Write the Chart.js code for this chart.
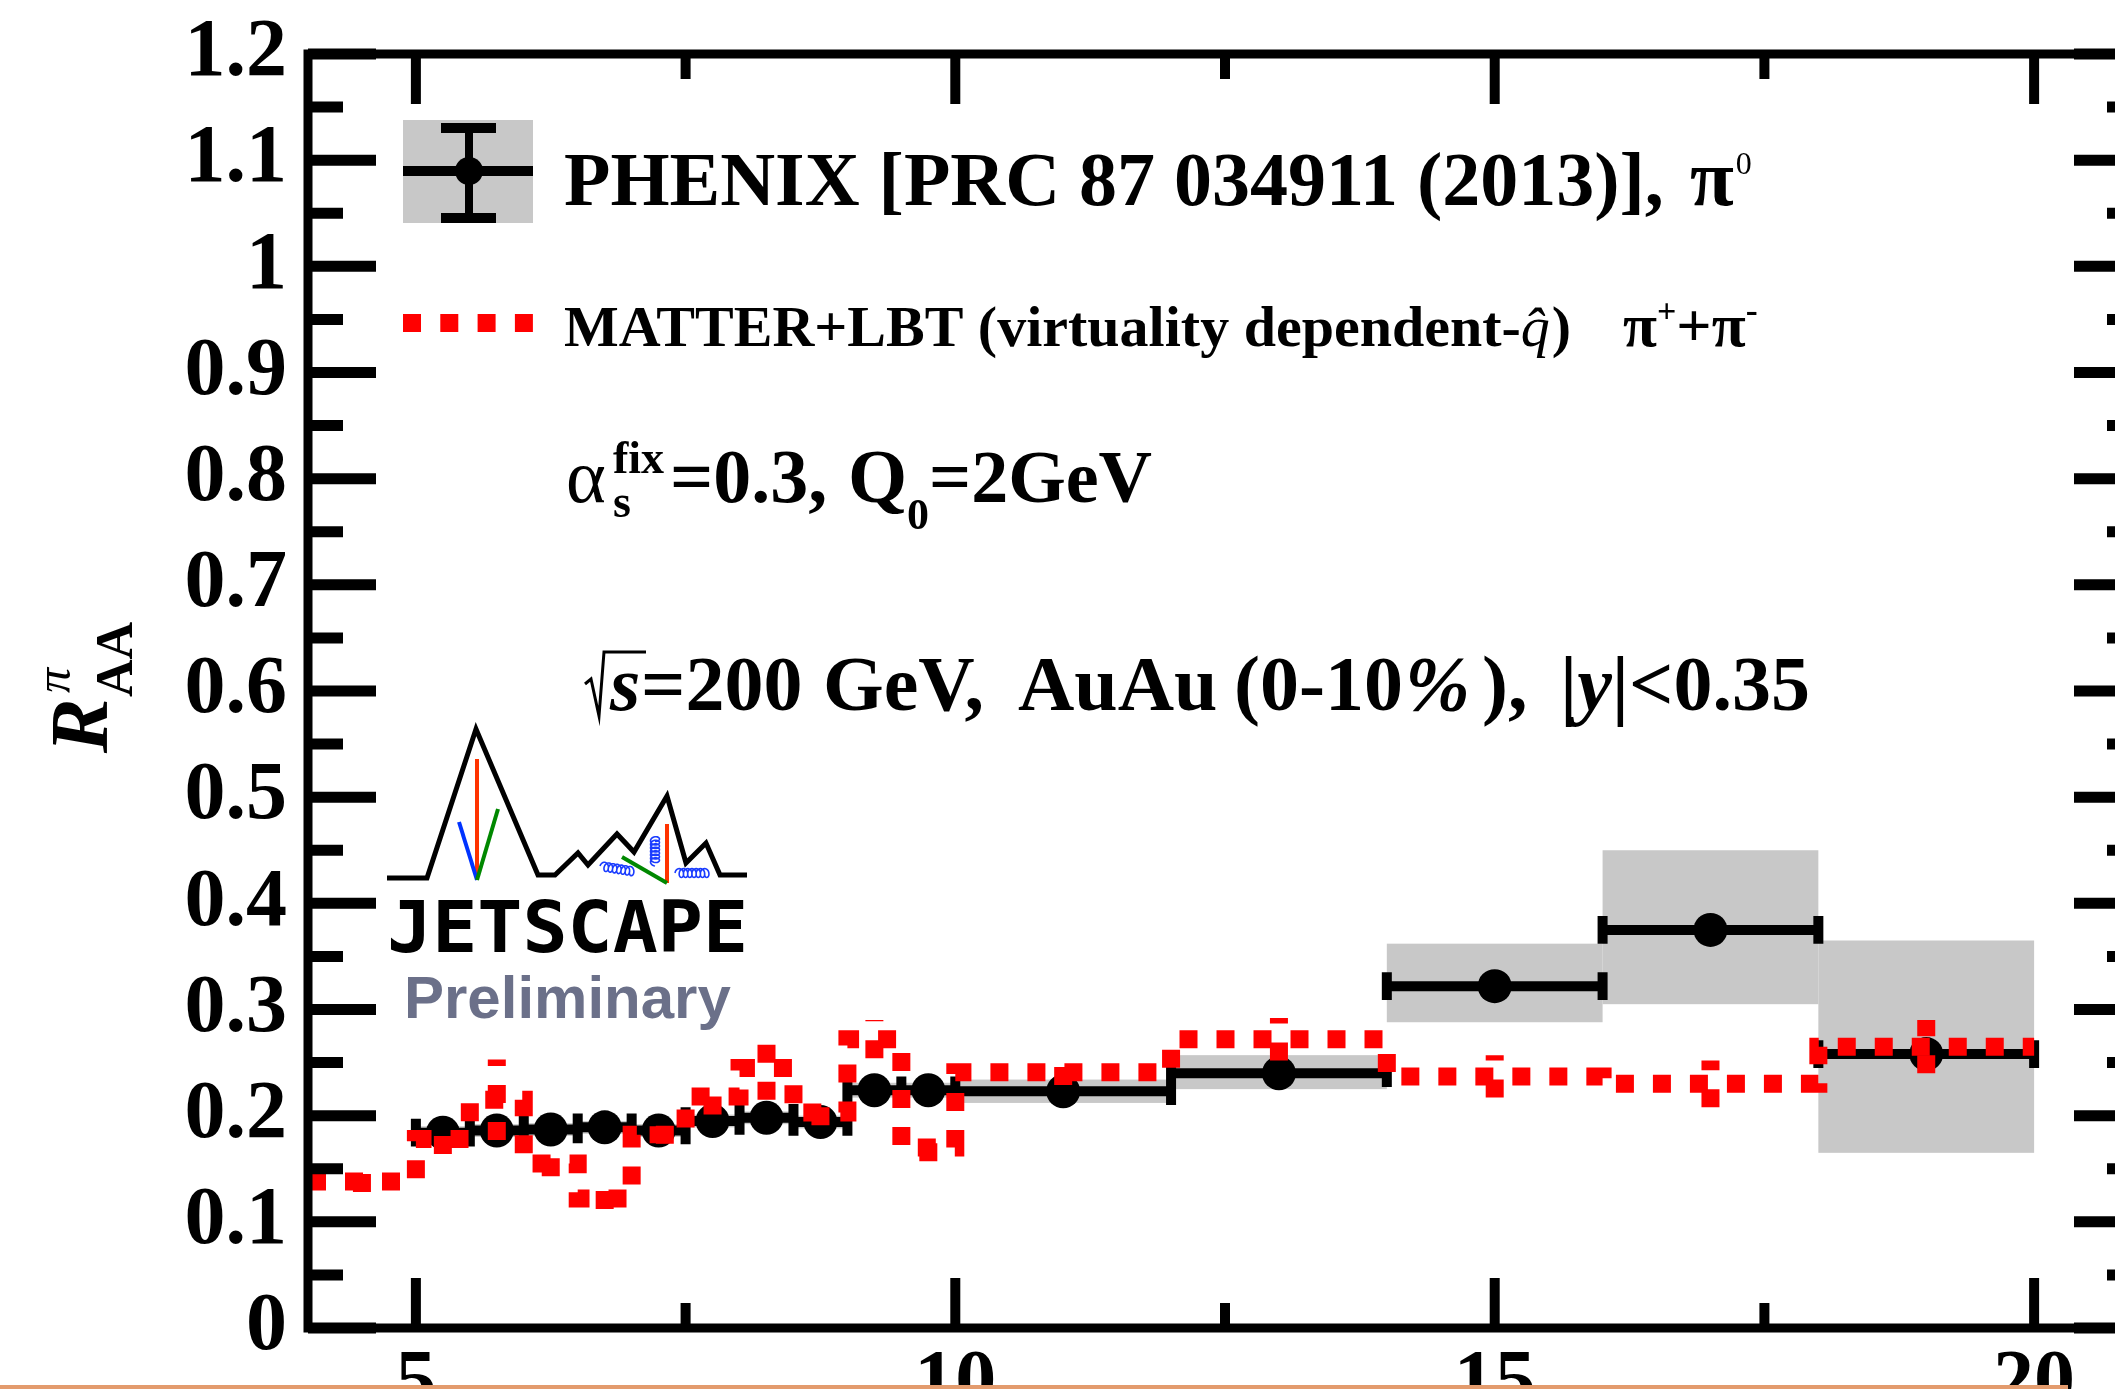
<!DOCTYPE html>
<html>
<head>
<meta charset="utf-8">
<title>Pion RAA, AuAu 200 GeV</title>
<script src="https://cdn.jsdelivr.net/npm/chart.js@4.4.1/dist/chart.umd.min.js"></script>
<style>
  html, body { margin: 0; padding: 0; background: #fff; overflow: hidden; width: 2115px; height: 1389px; }
  canvas { display: block; }
</style>
</head>
<body>
<canvas id="raaChart" width="2200" height="1389"></canvas>
<script>
const ctx = document.getElementById("raaChart").getContext("2d");

// PHENIX pi0 R_AA, AuAu 0-10% (bins in pT [GeV])
const phenixLo = [5, 5.5, 6, 6.5, 7, 7.5, 8, 8.5, 9, 9.5, 10, 12, 14, 16, 18];
const phenixHi = [5.5, 6, 6.5, 7, 7.5, 8, 8.5, 9, 9.5, 10, 12, 14, 16, 18, 20];
const phenixPt = [5.25, 5.75, 6.25, 6.75, 7.25, 7.75, 8.25, 8.75, 9.25, 9.75, 11, 13, 15, 17, 19];
const phenixRaa = [0.184, 0.186, 0.187, 0.189, 0.186, 0.195, 0.198, 0.194, 0.224, 0.224, 0.223, 0.240, 0.322, 0.375, 0.258];
const phenixSysLo = [0.178, 0.180, 0.181, 0.183, 0.180, 0.189, 0.192, 0.188, 0.217, 0.217, 0.212, 0.225, 0.288, 0.305, 0.165];
const phenixSysHi = [0.190, 0.192, 0.193, 0.195, 0.192, 0.201, 0.204, 0.200, 0.231, 0.231, 0.234, 0.257, 0.362, 0.450, 0.365];

// MATTER+LBT (virtuality dependent q-hat), pi+ + pi-
const modelLo = [4, 5, 5.5, 6, 6.5, 7, 7.5, 8, 8.5, 9, 9.5, 10, 12, 14, 16, 18];
const modelHi = [5, 5.5, 6, 6.5, 7, 7.5, 8, 8.5, 9, 9.5, 10, 12, 14, 16, 18, 20];
const modelPt = [4.5, 5.25, 5.75, 6.25, 6.75, 7.25, 7.75, 8.25, 8.75, 9.25, 9.75, 11, 13, 15, 17, 19];
const modelRaa = [0.138, 0.178, 0.215, 0.155, 0.122, 0.182, 0.218, 0.245, 0.203, 0.272, 0.170, 0.241, 0.272, 0.237, 0.230, 0.265];
const modelErr = [0.010, 0.014, 0.038, 0.012, 0.010, 0.008, 0.017, 0.030, 0.012, 0.018, 0.013, 0.012, 0.020, 0.020, 0.022, 0.025];

const xTicks = [5, 10, 15, 20];
const yTicks = [0, 0.1, 0.2, 0.3, 0.4, 0.5, 0.6, 0.7, 0.8, 0.9, 1.0, 1.1, 1.2];

const SERIF = '"Liberation Serif", "Times New Roman", serif';
const RED = "#ff0000";
const GREY = "#c8c8c8";
const CAP = 0.013;   // half height of the bin-edge caps
const DOTS = [18, 19];

// horizontal bin-width bars and caps, split by gaps
const phenixBars = [];
const phenixCaps = [];
phenixLo.forEach((lo, i) => {
  const hi = phenixHi[i], v = phenixRaa[i];
  phenixBars.push({ x: lo, y: v }, { x: hi, y: v }, { x: hi, y: null });
  [lo, hi].forEach(e => phenixCaps.push({ x: e, y: v - CAP }, { x: e, y: v + CAP }, { x: e, y: null }));
});

// model as a step histogram plus vertical error bars
const modelStep = modelLo.map((lo, i) => ({ x: lo, y: modelRaa[i] }));
modelStep.push({ x: modelHi[modelHi.length - 1], y: modelRaa[modelRaa.length - 1] });
const modelBars = [];
modelPt.forEach((pt, i) => {
  modelBars.push({ x: pt, y: modelRaa[i] - modelErr[i] }, { x: pt, y: modelRaa[i] + modelErr[i] }, { x: pt, y: null });
});

function textRun(c, x, y, parts) {
  parts.forEach(p => {
    c.font = p.font;
    const px = p.at !== undefined ? p.at : x;
    c.fillText(p.t, px, y + (p.dy || 0));
    x = px + c.measureText(p.t).width + (p.gap || 0);
  });
  return x;
}

function coil(c, x0, y0, x1, y1, loops, r) {
  const L = Math.hypot(x1 - x0, y1 - y0);
  const ux = (x1 - x0) / L, uy = (y1 - y0) / L;
  const n = loops * 24;
  c.beginPath();
  for (let k = 0; k <= n; k++) {
    const s = (k / n) * loops * 2 * Math.PI;
    const a = (k / n) * (L - 2 * r) + r - r * Math.cos(s);
    const b = -r * Math.sin(s) * 1.4;
    const px = x0 + ux * a - uy * b, py = y0 + uy * a + ux * b;
    if (k === 0) c.moveTo(px, py); else c.lineTo(px, py);
  }
  c.stroke();
}

function seg(c, x0, y0, x1, y1, color, w) {
  c.strokeStyle = color;
  c.lineWidth = w;
  c.beginPath();
  c.moveTo(x0, y0);
  c.lineTo(x1, y1);
  c.stroke();
}

const decorations = {
  id: "decorations",
  beforeDatasetsDraw(chart) {
    const { ctx: c, scales: { x, y } } = chart;
    c.save();
    c.fillStyle = GREY;
    phenixLo.forEach((lo, i) => {
      const x0 = x.getPixelForValue(lo), x1 = x.getPixelForValue(phenixHi[i]);
      const y0 = y.getPixelForValue(phenixSysHi[i]), y1 = y.getPixelForValue(phenixSysLo[i]);
      c.fillRect(x0, y0, x1 - x0, y1 - y0);
    });
    c.restore();
  },
  afterDraw(chart) {
    const { ctx: c, chartArea: a, scales: { x, y } } = chart;
    c.save();

    // frame with inward ticks on all four sides
    c.strokeStyle = "#000";
    c.lineWidth = 9;
    c.strokeRect(a.left, a.top, a.right - a.left, a.bottom - a.top);
    for (let v = 0; v <= 1.2001; v += 0.05) {
      const py = y.getPixelForValue(v);
      const major = Math.abs(v * 10 - Math.round(v * 10)) < 1e-6;
      const len = major ? 68 : 35;
      seg(c, a.left, py, a.left + len, py, "#000", 11);
      seg(c, a.right, py, a.right - len, py, "#000", 11);
    }
    for (let v = 5; v <= 20.001; v += 2.5) {
      const px = x.getPixelForValue(v);
      const len = v % 5 === 0 ? 50 : 25;
      seg(c, px, a.bottom, px, a.bottom - len, "#000", 10);
      seg(c, px, a.top, px, a.top + len, "#000", 10);
    }

    // y-axis title R^pi_AA
    c.save();
    c.translate(107, 753);
    c.rotate(-Math.PI / 2);
    c.fillStyle = "#000";
    c.font = `italic bold 82px ${SERIF}`;
    c.fillText("R", 0, 0);
    c.font = `italic 50px ${SERIF}`;
    c.fillText("π", 60, -37);
    c.font = `bold 52px ${SERIF}`;
    c.fillText("AA", 56, 25);
    c.restore();

    // legend: PHENIX marker
    c.fillStyle = GREY;
    c.fillRect(403, 120, 130, 103);
    seg(c, 403, 171, 533, 171, "#000", 10);
    seg(c, 469, 124, 469, 219, "#000", 8);
    seg(c, 441, 128, 496, 128, "#000", 10);
    seg(c, 441, 218, 496, 218, "#000", 10);
    c.fillStyle = "#000";
    c.beginPath();
    c.arc(469, 171, 14, 0, 2 * Math.PI);
    c.fill();

    // legend: model dotted line
    c.save();
    c.setLineDash([18, 19.3]);
    seg(c, 403, 323, 533, 323, RED, 18);
    c.restore();

    c.fillStyle = "#000";
    c.textBaseline = "alphabetic";
    textRun(c, 564, 205, [
      { t: "PHENIX [PRC 87 034911 (2013)],", font: `bold 76px ${SERIF}` },
      { t: "π", font: `bold 80px ${SERIF}`, at: 1690, gap: 2 },
      { t: "0", font: `32px ${SERIF}`, dy: -31 }
    ]);

    textRun(c, 564, 346, [
      { t: "MATTER+LBT (virtuality dependent-", font: `bold 58px ${SERIF}` },
      { t: "q\u0302", font: `italic 58px ${SERIF}`, gap: 2 },
      { t: ")", font: `bold 58px ${SERIF}` },
      { t: "π", font: `bold 62px ${SERIF}`, at: 1623 },
      { t: "+", font: `bold 34px ${SERIF}`, dy: -24 },
      { t: "+", font: `bold 62px ${SERIF}` },
      { t: "π", font: `bold 62px ${SERIF}` },
      { t: "-", font: `bold 36px ${SERIF}`, dy: -24 }
    ]);

    // alpha_s^fix line
    textRun(c, 566, 502, [{ t: "α", font: `76px ${SERIF}` }]);
    textRun(c, 613, 473, [{ t: "fix", font: `bold 46px ${SERIF}` }]);
    textRun(c, 613, 517, [{ t: "s", font: `bold 46px ${SERIF}` }]);
    textRun(c, 670, 502, [
      { t: "=0.3,", font: `bold 76px ${SERIF}` },
      { t: "Q", font: `bold 76px ${SERIF}`, at: 848 },
      { t: "0", font: `bold 44px ${SERIF}`, at: 907, dy: 27 },
      { t: "=2GeV", font: `bold 74px ${SERIF}`, at: 929 }
    ]);

    // sqrt(s) line
    c.strokeStyle = "#000";
    c.lineWidth = 3;
    c.beginPath();
    c.moveTo(585, 684);
    c.lineTo(591, 679);
    c.lineTo(599, 716);
    c.lineTo(604, 652);
    c.lineTo(646, 652);
    c.stroke();
    textRun(c, 610, 710, [
      { t: "s", font: `italic bold 78px ${SERIF}` },
      { t: "=200", font: `bold 78px ${SERIF}`, at: 641 },
      { t: "GeV,", font: `bold 78px ${SERIF}`, at: 823 },
      { t: "AuAu", font: `bold 78px ${SERIF}`, at: 1018 },
      { t: "(0-10", font: `bold 78px ${SERIF}`, at: 1234 },
      { t: "%", font: `italic bold 78px ${SERIF}`, at: 1405 },
      { t: "),", font: `bold 78px ${SERIF}`, at: 1482 },
      { t: "|", font: `bold 78px ${SERIF}`, at: 1560 },
      { t: "y", font: `italic bold 78px ${SERIF}` },
      { t: "|<0.35", font: `bold 78px ${SERIF}` }
    ]);

    // JETSCAPE logo
    c.lineJoin = "miter";
    c.strokeStyle = "#000";
    c.lineWidth = 5;
    const ridge = [[387, 878], [427, 878], [476, 729], [538, 875], [555, 875], [578, 853], [588, 865],
      [617, 834], [634, 852], [667, 796], [686, 863], [706, 843], [720, 875], [747, 875]];
    c.beginPath();
    ridge.forEach(([px, py], i) => (i ? c.lineTo(px, py) : c.moveTo(px, py)));
    c.stroke();
    seg(c, 477, 759, 477, 880, "#ff3300", 4);
    seg(c, 459, 822, 477, 880, "#0033ff", 4);
    seg(c, 498, 809, 477, 880, "#008800", 4);
    seg(c, 667, 824, 667, 883, "#ff3300", 4);
    seg(c, 622, 857, 667, 883, "#008800", 4);
    c.strokeStyle = "#1a3cff";
    c.lineWidth = 1.6;
    coil(c, 600, 866, 636, 872, 7, 3.2);
    coil(c, 655, 866, 655, 835, 7, 3.2);
    coil(c, 675, 873, 711, 873, 7, 3.2);

    c.save();
    c.font = `bold 71px "DejaVu Sans Mono"`;
    const w = c.measureText("JETSCAPE").width;
    c.translate(387, 952);
    c.scale(361 / w, 1);
    c.fillStyle = "#000";
    c.fillText("JETSCAPE", 0, 0);
    c.restore();

    c.fillStyle = "#6b7089";
    c.font = `bold 60px "Liberation Sans", Arial, sans-serif`;
    c.fillText("Preliminary", 404, 1018);

    // slide footer rule
    c.fillStyle = "#e39b6d";
    c.fillRect(0, 1385, 2068, 4);

    c.restore();
  }
};

const raaChart = new Chart(ctx, {
  type: "scatter",
  data: {
    datasets: [
      {
        label: "MATTER+LBT",
        type: "line",
        data: modelStep,
        stepped: "before",
        borderColor: RED,
        borderWidth: 18,
        borderDash: DOTS,
        borderCapStyle: "butt",
        borderJoinStyle: "miter",
        pointRadius: 0,
        fill: false,
        order: 0
      },
      {
        label: "MATTER+LBT errors",
        type: "line",
        data: modelBars,
        borderColor: RED,
        borderWidth: 18,
        borderDash: DOTS,
        borderCapStyle: "butt",
        pointRadius: 0,
        spanGaps: false,
        fill: false,
        order: 1
      },
      {
        label: "PHENIX",
        data: phenixPt.map((pt, i) => ({ x: pt, y: phenixRaa[i] })),
        backgroundColor: "#000",
        borderWidth: 0,
        pointRadius: 17,
        pointHoverRadius: 17,
        order: 2
      },
      {
        label: "PHENIX bins",
        type: "line",
        data: phenixBars,
        borderColor: "#000",
        borderWidth: 10,
        borderCapStyle: "butt",
        pointRadius: 0,
        spanGaps: false,
        fill: false,
        order: 3
      },
      {
        label: "PHENIX caps",
        type: "line",
        data: phenixCaps,
        borderColor: "#000",
        borderWidth: 10,
        borderCapStyle: "butt",
        pointRadius: 0,
        spanGaps: false,
        fill: false,
        order: 3
      }
    ]
  },
  options: {
    responsive: false,
    devicePixelRatio: 1,
    animation: false,
    layout: { padding: { top: 49, right: 58, bottom: 0, left: 0 } },
    plugins: {
      legend: { display: false },
      tooltip: { enabled: false }
    },
    scales: {
      x: {
        type: "linear",
        min: 4,
        max: 21,
        grid: { display: false },
        border: { display: false },
        afterFit: scale => { scale.height = 61; },
        afterBuildTicks: scale => { scale.ticks = xTicks.map(v => ({ value: v })); },
        ticks: {
          padding: 8,
          color: "#000",
          font: { family: SERIF, size: 82, weight: "bold", lineHeight: 1 },
          maxRotation: 0,
          autoSkip: false
        }
      },
      y: {
        type: "linear",
        min: 0,
        max: 1.2,
        grid: { display: false },
        border: { display: false },
        afterFit: scale => { scale.width = 308; },
        afterBuildTicks: scale => { scale.ticks = yTicks.map(v => ({ value: v })); },
        ticks: {
          padding: 13,
          color: "#000",
          font: { family: SERIF, size: 82, weight: "bold", lineHeight: 1 },
          autoSkip: false,
          callback: v => String(Number(v.toFixed(2)))
        }
      }
    }
  },
  plugins: [decorations]
});
</script>
</body>
</html>
